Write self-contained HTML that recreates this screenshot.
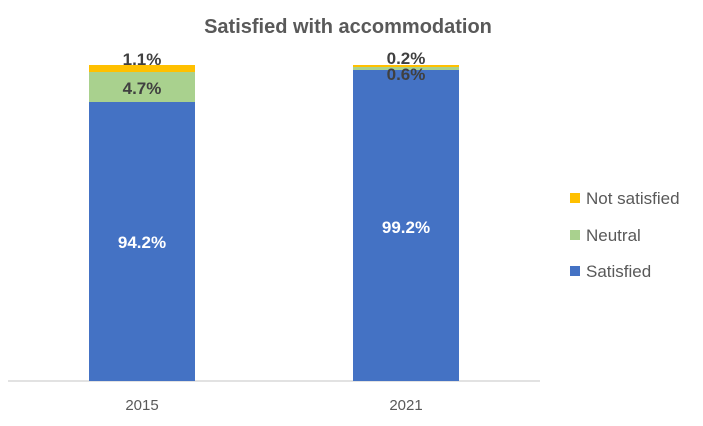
<!DOCTYPE html>
<html><head><style>
body{margin:0;background:#fff;}
svg text{font-family:"Liberation Sans",sans-serif;}
</style></head><body>
<svg width="703" height="421" xmlns="http://www.w3.org/2000/svg">
<rect width="703" height="421" fill="#fff"/>
<text x="348" y="33" text-anchor="middle" font-size="20" font-weight="bold" fill="#595959">Satisfied with accommodation</text>
<line x1="8" y1="381" x2="540" y2="381" stroke="#d9d9d9" stroke-width="1.5"/>
<rect x="89" y="65" width="106" height="7" fill="#ffc000"/>
<rect x="89" y="72" width="106" height="30" fill="#a9d18e"/>
<rect x="89" y="102" width="106" height="279" fill="#4472c4"/>
<rect x="353" y="65" width="106" height="2" fill="#ffc000"/>
<rect x="353" y="67" width="106" height="3" fill="#a9d18e"/>
<rect x="353" y="70" width="106" height="311" fill="#4472c4"/>
<g font-size="17" font-weight="bold" text-anchor="middle">
<text x="142" y="65" fill="#404040">1.1%</text>
<text x="142" y="94" fill="#404040">4.7%</text>
<text x="142" y="248" fill="#fff">94.2%</text>
<text x="406" y="64" fill="#404040">0.2%</text>
<text x="406" y="80" fill="#404040">0.6%</text>
<text x="406" y="233" fill="#fff">99.2%</text>
</g>
<g font-size="15" fill="#595959" text-anchor="middle">
<text x="142" y="410">2015</text>
<text x="406" y="410">2021</text>
</g>
<rect x="570" y="193" width="10" height="10" fill="#ffc000"/>
<rect x="570" y="230" width="10" height="10" fill="#a9d18e"/>
<rect x="570" y="266" width="10" height="10" fill="#4472c4"/>
<g font-size="17" fill="#595959">
<text x="586" y="204">Not satisfied</text>
<text x="586" y="241">Neutral</text>
<text x="586" y="277">Satisfied</text>
</g>
</svg>
</body></html>
